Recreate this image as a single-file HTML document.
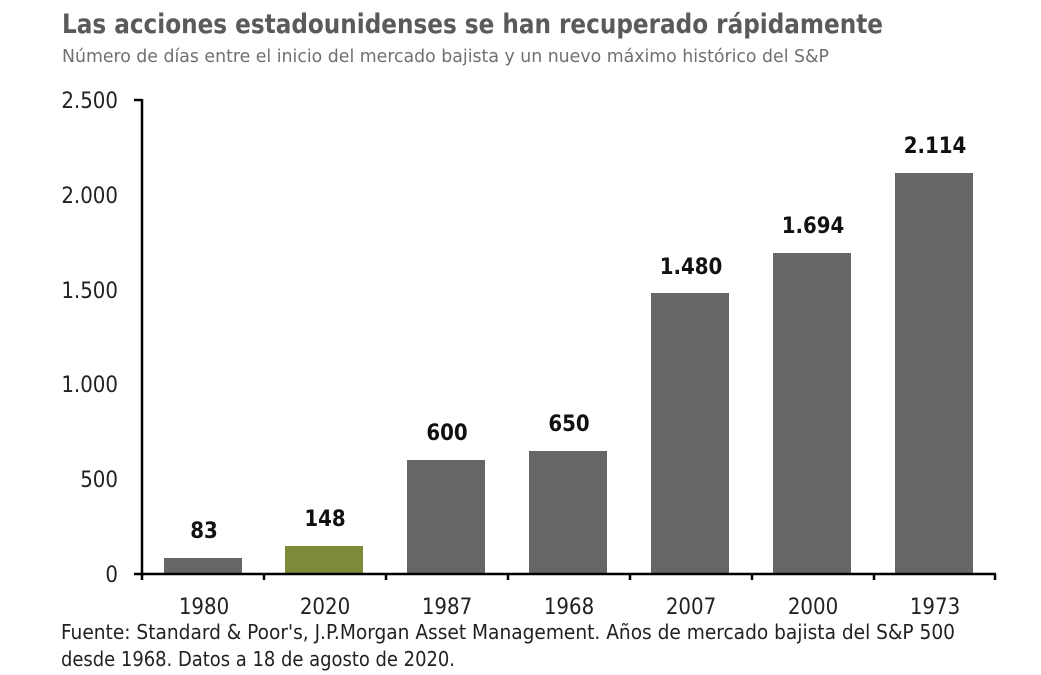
<!DOCTYPE html>
<html><head><meta charset="utf-8"><style>
body{margin:0;background:#fff;}
svg{display:block;font-family:"DejaVu Sans Condensed","DejaVu Sans","Liberation Sans",sans-serif;}
</style></head><body>
<svg width="1041" height="675" viewBox="0 0 1041 675" xmlns="http://www.w3.org/2000/svg">
<text x="62" y="33" font-size="27" font-weight="bold" fill="#5a5a5a" textLength="821" lengthAdjust="spacingAndGlyphs">Las acciones estadounidenses se han recuperado rápidamente</text>
<text x="62" y="62" font-size="18" fill="#707070" textLength="767" lengthAdjust="spacingAndGlyphs">Número de días entre el inicio del mercado bajista y un nuevo máximo histórico del S&amp;P</text>
<g font-size="22" fill="#222" text-anchor="end">
<text x="118" y="108">2.500</text>
<text x="118" y="203">2.000</text>
<text x="118" y="298">1.500</text>
<text x="118" y="392">1.000</text>
<text x="118" y="487">500</text>
<text x="118" y="582">0</text>
</g>
<g fill="#666">
<rect x="164" y="558" width="78" height="16"/>
<rect x="285" y="546" width="78" height="28" fill="#7e8a3a"/>
<rect x="407" y="460" width="78" height="114"/>
<rect x="529" y="451" width="78" height="123"/>
<rect x="651" y="293" width="78" height="281"/>
<rect x="773" y="253" width="78" height="321"/>
<rect x="895" y="173" width="78" height="401"/>
</g>
<g stroke="#000" stroke-width="2.5" fill="none">
<line x1="142" y1="99" x2="142" y2="576"/>
<line x1="134" y1="100" x2="142" y2="100"/>
<line x1="134" y1="574" x2="996" y2="574"/>
<line x1="142" y1="574" x2="142" y2="580"/>
<line x1="264" y1="574" x2="264" y2="580"/>
<line x1="386" y1="574" x2="386" y2="580"/>
<line x1="508" y1="574" x2="508" y2="580"/>
<line x1="630" y1="574" x2="630" y2="580"/>
<line x1="752" y1="574" x2="752" y2="580"/>
<line x1="874" y1="574" x2="874" y2="580"/>
<line x1="995" y1="574" x2="995" y2="580"/>
</g>
<g font-size="22" font-weight="bold" fill="#111" text-anchor="middle">
<text x="204" y="538">83</text>
<text x="325" y="526">148</text>
<text x="447" y="440">600</text>
<text x="569" y="431">650</text>
<text x="691" y="274">1.480</text>
<text x="813" y="233">1.694</text>
<text x="935" y="153">2.114</text>
</g>
<g font-size="22" fill="#222" text-anchor="middle">
<text x="204" y="614">1980</text>
<text x="325" y="614">2020</text>
<text x="447" y="614">1987</text>
<text x="569" y="614">1968</text>
<text x="691" y="614">2007</text>
<text x="813" y="614">2000</text>
<text x="935" y="614">1973</text>
</g>
<text x="61" y="639" font-size="20" fill="#222" textLength="894" lengthAdjust="spacingAndGlyphs">Fuente: Standard &amp; Poor's, J.P.Morgan Asset Management. Años de mercado bajista del S&amp;P 500</text>
<text x="61" y="666" font-size="20" fill="#222" textLength="394" lengthAdjust="spacingAndGlyphs">desde 1968. Datos a 18 de agosto de 2020.</text>
</svg>
</body></html>
